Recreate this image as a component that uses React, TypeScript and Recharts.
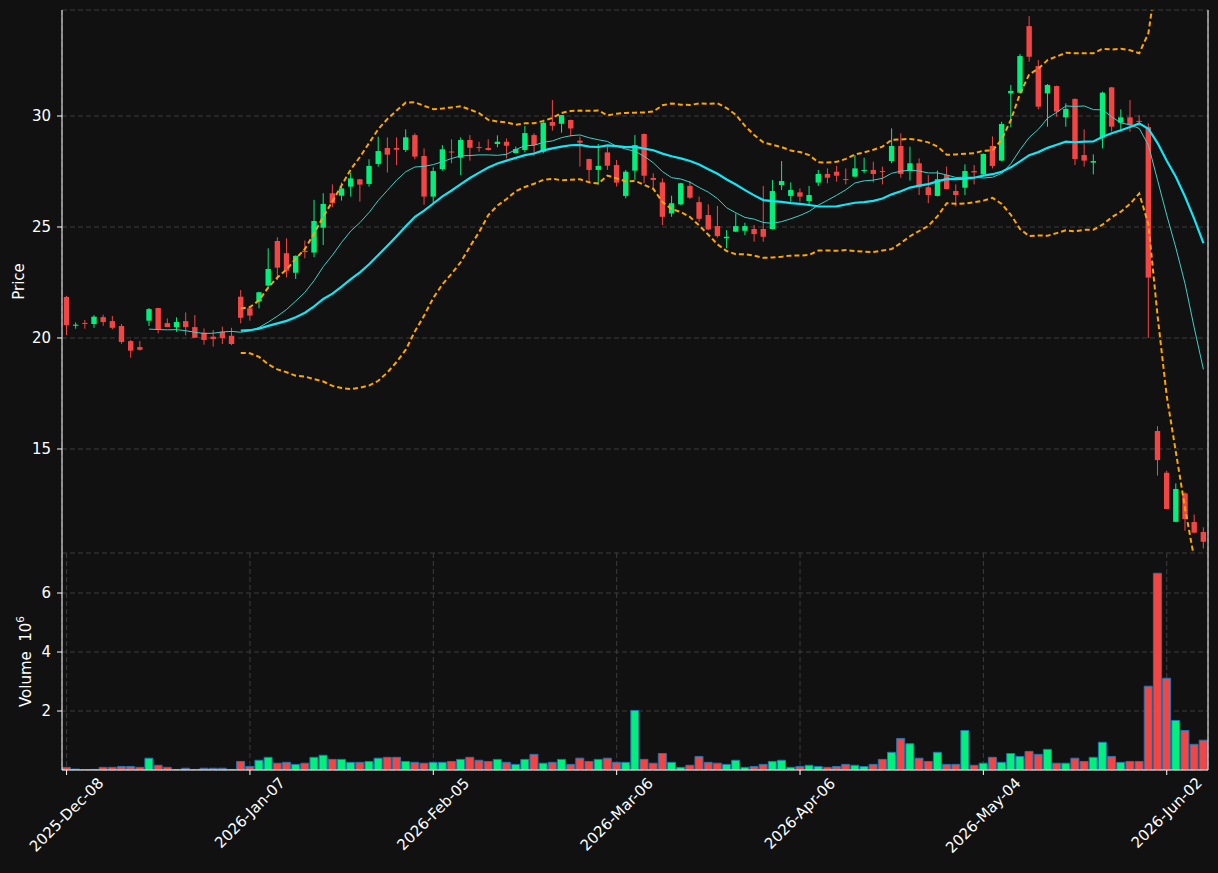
import React from "react";
import { ComposedChart, Bar, Line, XAxis, YAxis, CartesianGrid, Cell } from "recharts";

// ---- categories (trading days) ----
const monthDays: [string, number[]][] = [
  ["2025-Dec", [8, 9, 10, 11, 12, 15, 16, 17, 18, 19, 22, 23, 24, 26, 29, 30, 31]],
  ["2026-Jan", [2, 5, 6, 7, 8, 9, 12, 13, 14, 15, 16, 20, 21, 22, 23, 26, 27, 28, 29, 30]],
  ["2026-Feb", [2, 3, 4, 5, 6, 9, 10, 11, 12, 13, 17, 18, 19, 20, 23, 24, 25, 26, 27]],
  ["2026-Mar", [2, 3, 4, 5, 6, 9, 10, 11, 12, 13, 16, 17, 18, 19, 20, 23, 24, 25, 26, 27, 30, 31]],
  ["2026-Apr", [1, 2, 6, 7, 8, 9, 10, 13, 14, 15, 16, 17, 20, 21, 22, 23, 24, 27, 28, 29, 30]],
  ["2026-May", [1, 4, 5, 6, 7, 8, 11, 12, 13, 14, 15, 18, 19, 20, 21, 22, 26, 27, 28, 29]],
  ["2026-Jun", [1, 2, 3, 4, 5, 8]],
];
const dates: string[] = monthDays.flatMap(([m, ds]) => ds.map((d) => `${m}-${String(d).padStart(2, "0")}`));

const tickLabels = ["2025-Dec-08", "2026-Jan-07", "2026-Feb-05", "2026-Mar-06", "2026-Apr-06", "2026-May-04", "2026-Jun-02"];
const priceTicks = [15, 20, 25, 30];
const volumeTicks = [2, 4, 6];

// ---- series ----
const open = [
  21.85, 20.55, 20.68, 20.63, 20.94, 20.76, 20.54, 19.86, 19.59, 20.78,
  21.35, 20.67, 20.49, 20.76, 20.49, 20.24, 20.06, 20.28, 20.10, 21.86,
  21.34, 21.64, 22.36, 24.37, 23.82, 22.94, 23.93, 23.85, 24.97, 26.52,
  26.41, 26.82, 27.15, 26.94, 27.84, 28.56, 28.56, 28.47, 29.14, 28.20,
  26.37, 27.61, 28.40, 28.12, 28.92, 28.60, 28.56, 28.74, 28.84, 28.33,
  28.47, 29.14, 28.39, 29.73, 29.65, 29.82, 28.89, 28.06, 27.57, 28.36,
  27.79, 26.40, 27.54, 29.19, 27.21, 27.01, 25.61, 26.02, 26.85, 26.12,
  25.54, 25.04, 24.49, 24.79, 24.83, 24.91, 24.91, 24.91, 26.89, 26.40,
  26.56, 26.17, 27.00, 27.39, 27.49, 27.16, 27.27, 27.52, 27.57, 27.52,
  27.97, 28.65, 27.52, 27.87, 26.79, 26.40, 27.34, 26.62, 26.77, 27.52,
  27.37, 28.65, 27.99, 31.02, 31.05, 34.05, 32.25, 31.02, 31.35, 29.94,
  30.77, 28.24, 27.90, 29.02, 31.29, 29.70, 29.94, 29.78, 29.50, 15.81,
  13.93, 11.72, 13.00, 11.71, 11.26,
];
const high = [
  21.90, 20.70, 20.81, 21.03, 21.05, 20.99, 20.63, 19.91, 19.86, 21.35,
  21.36, 20.88, 20.93, 21.15, 21.03, 20.43, 20.36, 20.51, 20.46, 22.16,
  21.41, 22.08, 24.04, 24.54, 24.49, 23.72, 24.39, 26.22, 26.52, 26.92,
  27.00, 27.45, 27.17, 28.05, 29.07, 29.04, 29.04, 29.40, 29.22, 28.54,
  27.69, 28.69, 28.95, 29.04, 29.14, 28.84, 28.95, 29.13, 28.99, 28.62,
  29.55, 29.22, 29.74, 30.72, 30.05, 29.84, 29.07, 28.08, 28.74, 28.62,
  28.02, 27.57, 29.14, 29.21, 27.42, 27.19, 26.41, 26.99, 27.07, 26.37,
  26.02, 25.95, 24.86, 25.61, 25.19, 25.09, 26.85, 27.12, 27.97, 27.01,
  26.74, 26.85, 27.57, 27.64, 27.75, 27.64, 28.24, 28.12, 27.94, 27.72,
  29.44, 29.22, 28.62, 28.09, 27.34, 27.54, 27.72, 26.92, 27.82, 27.79,
  28.31, 29.08, 29.74, 31.40, 32.79, 34.50, 32.52, 31.44, 31.37, 30.57,
  30.79, 29.40, 28.27, 31.10, 31.31, 30.30, 30.72, 30.04, 29.67, 16.03,
  14.02, 13.45, 13.05, 12.05, 11.47,
];
const low = [
  20.13, 20.42, 20.42, 20.46, 20.55, 20.39, 19.74, 19.11, 19.43, 20.54,
  20.21, 20.49, 20.28, 20.12, 20.01, 19.70, 19.61, 19.73, 19.68, 20.66,
  20.78, 21.34, 22.31, 22.61, 22.73, 22.66, 23.59, 23.64, 24.19, 25.89,
  26.19, 26.37, 26.14, 26.82, 27.72, 27.45, 27.79, 28.38, 28.05, 26.00,
  26.07, 27.54, 27.87, 27.34, 27.99, 28.39, 28.44, 28.59, 28.09, 28.32,
  28.36, 28.21, 28.32, 29.34, 29.25, 29.07, 27.72, 27.07, 26.92, 27.57,
  26.82, 26.29, 27.12, 26.97, 26.74, 25.09, 25.46, 26.00, 26.26, 25.24,
  24.86, 24.52, 24.04, 24.77, 24.64, 24.34, 24.34, 24.89, 26.67, 26.14,
  26.14, 25.95, 26.85, 26.97, 27.04, 26.92, 27.25, 27.42, 27.01, 26.92,
  27.87, 27.22, 27.09, 26.44, 26.07, 26.38, 26.69, 25.92, 26.44, 26.92,
  27.34, 27.64, 27.97, 29.49, 31.03, 32.45, 30.30, 29.52, 29.97, 29.52,
  27.79, 27.72, 27.37, 28.54, 29.30, 29.29, 29.29, 29.55, 20.00, 13.80,
  12.28, 11.70, 11.32, 11.20, 10.52,
];
const close = [
  20.58, 20.60, 20.65, 20.96, 20.72, 20.46, 19.82, 19.43, 19.47, 21.30,
  20.39, 20.49, 20.72, 20.49, 20.01, 19.91, 19.95, 19.99, 19.73, 20.91,
  21.01, 22.06, 23.11, 23.17, 23.03, 23.70, 23.87, 25.27, 26.04, 26.07,
  26.74, 27.19, 26.91, 27.75, 28.42, 28.26, 28.48, 29.04, 28.17, 26.37,
  27.52, 28.50, 28.36, 28.92, 28.57, 28.56, 28.47, 28.84, 28.66, 28.51,
  29.23, 28.69, 29.70, 29.56, 30.04, 29.44, 28.80, 27.57, 27.75, 27.76,
  27.00, 27.49, 28.69, 27.31, 27.12, 25.46, 26.07, 26.97, 26.32, 25.37,
  24.89, 24.59, 24.56, 25.04, 25.04, 24.68, 24.56, 26.62, 27.07, 26.67,
  26.37, 26.44, 27.39, 27.22, 27.31, 27.12, 27.64, 27.57, 27.39, 27.48,
  28.65, 27.39, 27.87, 26.79, 26.44, 27.15, 26.71, 26.44, 27.52, 27.46,
  28.29, 27.75, 29.64, 31.13, 32.70, 32.67, 30.42, 31.40, 30.20, 30.32,
  28.06, 27.99, 27.97, 31.05, 29.52, 29.94, 29.59, 29.74, 22.72, 14.50,
  12.30, 13.20, 11.84, 11.23, 10.82,
];
// volume in millions (axis shows x10^6)
const volumeM = [
  0.09, 0.03, 0.01, 0.02, 0.09, 0.09, 0.12, 0.12, 0.09, 0.40,
  0.16, 0.09, 0.02, 0.06, 0.02, 0.06, 0.06, 0.06, 0.02, 0.29,
  0.12, 0.33, 0.43, 0.23, 0.26, 0.19, 0.23, 0.43, 0.50, 0.36,
  0.36, 0.26, 0.26, 0.29, 0.40, 0.43, 0.43, 0.29, 0.26, 0.23,
  0.26, 0.26, 0.29, 0.36, 0.43, 0.33, 0.29, 0.36, 0.26, 0.19,
  0.36, 0.53, 0.23, 0.26, 0.36, 0.19, 0.40, 0.29, 0.36, 0.40,
  0.26, 0.26, 2.02, 0.36, 0.23, 0.56, 0.26, 0.09, 0.16, 0.46,
  0.26, 0.23, 0.19, 0.33, 0.09, 0.12, 0.19, 0.29, 0.33, 0.09,
  0.12, 0.16, 0.12, 0.09, 0.12, 0.19, 0.16, 0.12, 0.19, 0.36,
  0.60, 1.07, 0.89, 0.40, 0.29, 0.60, 0.19, 0.19, 1.34, 0.16,
  0.23, 0.43, 0.26, 0.56, 0.46, 0.63, 0.53, 0.70, 0.23, 0.23,
  0.40, 0.29, 0.43, 0.94, 0.46, 0.26, 0.29, 0.29, 2.84, 6.67,
  3.11, 1.68, 1.34, 0.87, 1.01,
];

// ---- style ----
const BG = "#111111";
const GREEN = "#00f07c";
const RED = "#f44545";
const GRID = "#3d3d3d";
const FONT = "DejaVu Sans";
const W = 1218;
const LEFT = 62;
const RIGHT_PAD = 10;

// indicators derived from closes (SMA10, SMA20, Bollinger 20/2)
const mean = (a: number[]) => a.reduce((s, v) => s + v, 0) / a.length;
const rows = dates.map((date, i) => {
  const w10 = i >= 9 ? close.slice(i - 9, i + 1) : null;
  const w20 = i >= 19 ? close.slice(i - 19, i + 1) : null;
  const m20 = w20 ? mean(w20) : null;
  const sd = w20 && m20 !== null ? Math.sqrt(mean(w20.map((v) => (v - m20) * (v - m20)))) : null;
  return {
    date,
    open: open[i],
    high: high[i],
    low: low[i],
    close: close[i],
    range: [low[i], high[i]],
    up: close[i] >= open[i],
    vol: volumeM[i],
    sma10: w10 ? mean(w10) : null,
    sma20: m20,
    bbUp: m20 !== null && sd !== null ? m20 + 2 * sd : null,
    bbLo: m20 !== null && sd !== null ? m20 - 2 * sd : null,
  };
});

const Candle = (props: any) => {
  const { x, y, width, height, payload } = props;
  if (!payload || x == null || y == null) return null;
  const top = Math.min(y, y + height);
  const h = Math.abs(height);
  const span = payload.high - payload.low;
  const ppu = span > 0 ? h / span : 0;
  const yOf = (v: number) => top + (payload.high - v) * ppu;
  const color = payload.up ? GREEN : RED;
  const cx = x + width / 2;
  const bw = width * 0.6;
  const bt = yOf(Math.max(payload.open, payload.close));
  const bb = yOf(Math.min(payload.open, payload.close));
  return (
    <g>
      <line x1={cx} x2={cx} y1={top} y2={top + h} stroke={color} strokeWidth={1} />
      <rect x={cx - bw / 2} y={bt} width={bw} height={Math.max(bb - bt, 1)} fill={color} />
    </g>
  );
};

const charW: Record<string, number> = {
  "0": 0.636, "1": 0.636, "2": 0.636, "3": 0.636, "4": 0.636, "5": 0.636, "6": 0.636, "7": 0.636, "8": 0.636, "9": 0.636,
  "-": 0.361, D: 0.77, e: 0.615, c: 0.55, J: 0.295, a: 0.613, n: 0.634, F: 0.575, b: 0.635, M: 0.863, r: 0.411,
  A: 0.684, p: 0.635, y: 0.592, u: 0.634,
};
const FS = 15;

const DateTick = (props: any) => {
  const { x, y, payload } = props;
  const label = String(payload.value);
  const L = label.split("").reduce((s, ch) => s + (charW[ch] ?? 0.6), 0) * FS * 0.93;
  const hgt = FS * 1.1;
  const half = ((L + hgt) * 0.7071) / 2;
  const cy = y + 2 + half;
  return (
    <text
      x={x}
      y={cy}
      transform={`rotate(-45 ${x} ${cy})`}
      textAnchor="middle"
      dominantBaseline="central"
      fill="#ffffff"
      fontSize={FS}
      fontFamily={FONT}
    >
      {label}
    </text>
  );
};

const axisText = { fill: "#ffffff", fontSize: FS, fontFamily: FONT };

export default function App() {
  return (
    <div style={{ position: "absolute", left: 0, top: 0, width: W, height: 873, background: BG, overflow: "hidden" }}>
      <div style={{ position: "absolute", left: 0, top: 0 }}>
        <ComposedChart width={W} height={553} data={rows} margin={{ top: 10, right: 0, bottom: 0, left: 0 }} barCategoryGap={0}>
          <CartesianGrid stroke={GRID} strokeDasharray="5 3" />
          <XAxis dataKey="date" ticks={tickLabels} interval={0} height={0} tick={false} tickLine={false} axisLine={{ stroke: "#ffffff" }} />
          <XAxis xAxisId="top" orientation="top" dataKey="date" height={0} tick={false} tickLine={false} axisLine={{ stroke: "#ffffff" }} />
          <YAxis
            domain={[10.315, 34.775]}
            ticks={priceTicks}
            allowDataOverflow
            width={LEFT}
            tickSize={5}
            tickMargin={6}
            tick={axisText}
            tickLine={{ stroke: "#ffffff" }}
            axisLine={{ stroke: "#ffffff" }}
            label={(p: any) => {
              const vb = p.viewBox || { x: 0, y: 10, height: 543 };
              const cx = 19;
              const cy = vb.y + vb.height / 2;
              return (
                <text x={cx} y={cy} transform={`rotate(-90 ${cx} ${cy})`} textAnchor="middle" dominantBaseline="central" fill="#ffffff" fontSize={FS} fontFamily={FONT}>
                  Price
                </text>
              );
            }}
          />
          <YAxis yAxisId="right" orientation="right" width={RIGHT_PAD} tick={false} tickLine={false} axisLine={{ stroke: "#ffffff" }} />
          <Bar dataKey="range" shape={Candle} isAnimationActive={false} />
          <Line dataKey="sma10" stroke="#3fcfc6" strokeWidth={1} dot={false} activeDot={false} isAnimationActive={false} connectNulls={false} />
          <Line dataKey="sma20" stroke="#12e6f5" strokeWidth={2.2} dot={false} activeDot={false} isAnimationActive={false} connectNulls={false} />
          <Line dataKey="bbUp" stroke="#ffa500" strokeWidth={2} strokeDasharray="5 3" dot={false} activeDot={false} isAnimationActive={false} connectNulls={false} />
          <Line dataKey="bbLo" stroke="#ffa500" strokeWidth={2} strokeDasharray="5 3" dot={false} activeDot={false} isAnimationActive={false} connectNulls={false} />
        </ComposedChart>
      </div>
      <div style={{ position: "absolute", left: 0, top: 553 }}>
        <ComposedChart width={W} height={320} data={rows} margin={{ top: 0, right: 0, bottom: 0, left: 0 }} barCategoryGap={0.4}>
          <CartesianGrid stroke={GRID} strokeDasharray="5 3" />
          <XAxis
            dataKey="date"
            ticks={tickLabels}
            interval={0}
            height={103}
            tickSize={5}
            tickMargin={0}
            tick={<DateTick />}
            tickLine={{ stroke: "#ffffff" }}
            axisLine={{ stroke: "#ffffff" }}
          />
          <XAxis xAxisId="top" orientation="top" dataKey="date" height={0} tick={false} tickLine={false} axisLine={{ stroke: "#ffffff" }} />
          <YAxis
            domain={[0, 7.356]}
            ticks={volumeTicks}
            allowDataOverflow
            width={LEFT}
            tickSize={5}
            tickMargin={6}
            tick={axisText}
            tickLine={{ stroke: "#ffffff" }}
            axisLine={{ stroke: "#ffffff" }}
            label={(p: any) => {
              const vb = p.viewBox || { x: 0, y: 0, height: 217 };
              const cx = 26;
              const cy = vb.y + vb.height / 2;
              return (
                <text x={cx} y={cy} transform={`rotate(-90 ${cx} ${cy})`} textAnchor="middle" dominantBaseline="central" fill="#ffffff" fontSize={FS} fontFamily={FONT}>
                  Volume{"\u00a0\u00a0"}10
                  <tspan dy={-6} fontSize={10.5}>6</tspan>
                </text>
              );
            }}
          />
          <YAxis yAxisId="right" orientation="right" width={RIGHT_PAD} tick={false} tickLine={false} axisLine={{ stroke: "#ffffff" }} />
          <Bar dataKey="vol" isAnimationActive={false}>
            {rows.map((r, i) => (
              <Cell key={i} fill={r.up ? GREEN : RED} stroke="#1f77b4" strokeWidth={1} />
            ))}
          </Bar>
        </ComposedChart>
      </div>
    </div>
  );
}
